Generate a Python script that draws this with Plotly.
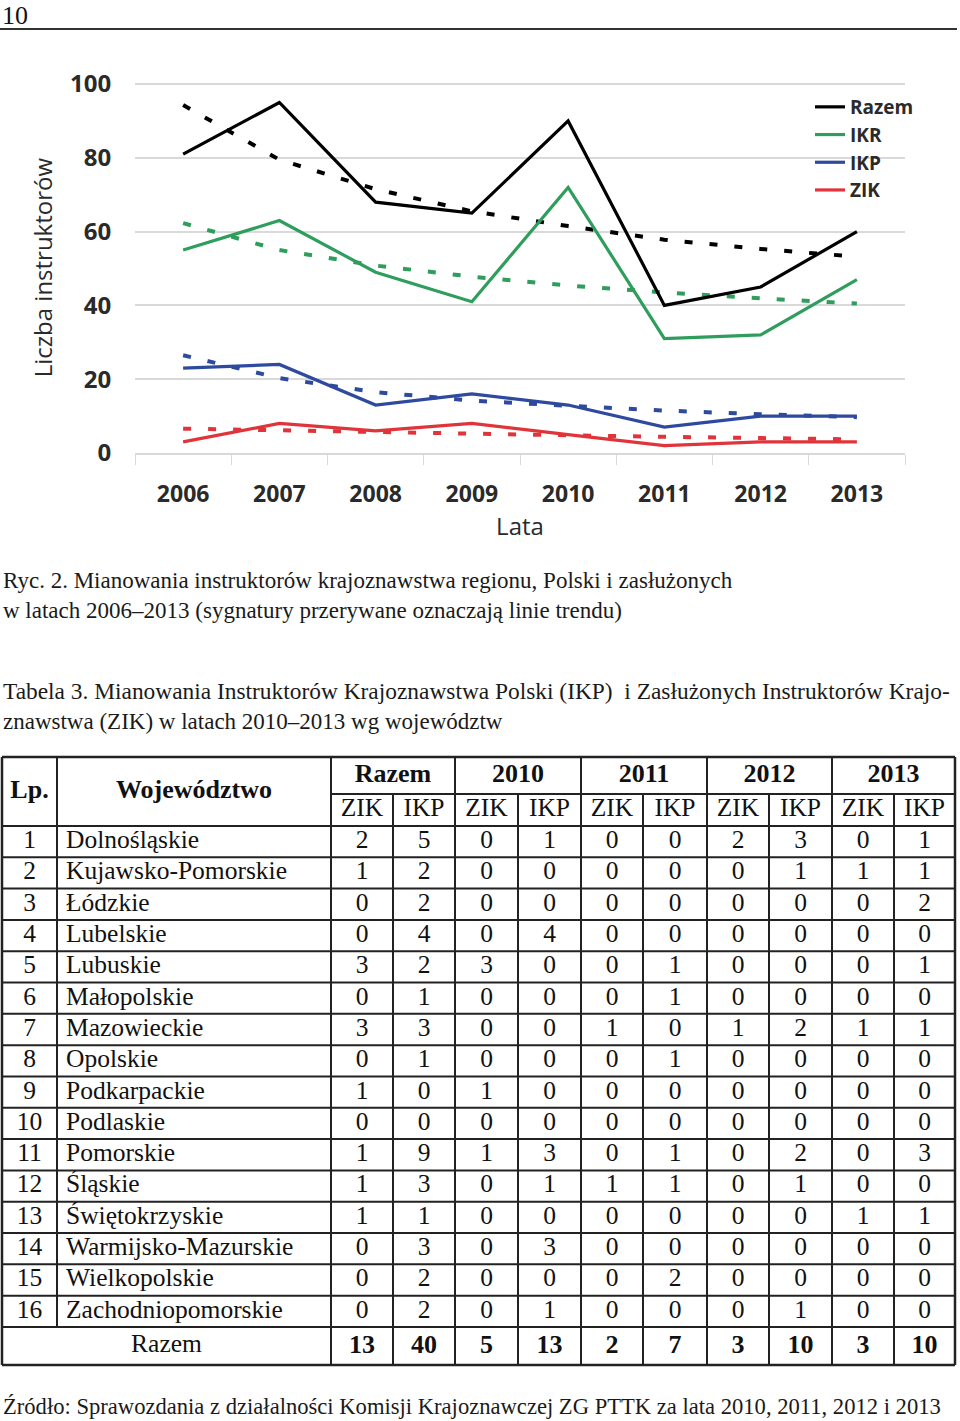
import plotly.graph_objects as go

# ---------------- chart data ----------------
lata = ["2006", "2007", "2008", "2009", "2010", "2011", "2012", "2013"]
razem = [81, 95, 68, 65, 90, 40, 45, 60]
ikr = [55, 63, 49, 41, 72, 31, 32, 47]
ikp = [23, 24, 13, 16, 13, 7, 10, 10]
zik = [3, 8, 6, 8, 5, 2, 3, 3]
# trend lines
razem_trend = [94.3, 79.5, 71.5, 65.5, 61.5, 57.8, 55.3, 53.2]
ikr_trend = [62.3, 55.0, 50.8, 47.8, 45.4, 43.5, 41.9, 40.5]
ikp_trend = [26.5, 20.3, 16.5, 14.2, 12.8, 11.5, 10.5, 9.7]
zik_trend = [6.6, 6.1, 5.6, 5.2, 4.8, 4.4, 4.0, 3.7]

# ---------------- table data ----------------
lp = [str(i) for i in range(1, 17)]
wojewodztwa = ["Dolnośląskie", "Kujawsko-Pomorskie", "Łódzkie", "Lubelskie", "Lubuskie",
               "Małopolskie", "Mazowieckie", "Opolskie", "Podkarpackie", "Podlaskie",
               "Pomorskie", "Śląskie", "Świętokrzyskie", "Warmijsko-Mazurskie",
               "Wielkopolskie", "Zachodniopomorskie"]
razem_zik = [2, 1, 0, 0, 3, 0, 3, 0, 1, 0, 1, 1, 1, 0, 0, 0]
razem_ikp = [5, 2, 2, 4, 2, 1, 3, 1, 0, 0, 9, 3, 1, 3, 2, 2]
zik_2010 = [0, 0, 0, 0, 3, 0, 0, 0, 1, 0, 1, 0, 0, 0, 0, 0]
ikp_2010 = [1, 0, 0, 4, 0, 0, 0, 0, 0, 0, 3, 1, 0, 3, 0, 1]
zik_2011 = [0, 0, 0, 0, 0, 0, 1, 0, 0, 0, 0, 1, 0, 0, 0, 0]
ikp_2011 = [0, 0, 0, 0, 1, 1, 0, 1, 0, 0, 1, 1, 0, 0, 2, 0]
zik_2012 = [2, 0, 0, 0, 0, 0, 1, 0, 0, 0, 0, 0, 0, 0, 0, 0]
ikp_2012 = [3, 1, 0, 0, 0, 0, 2, 0, 0, 0, 2, 1, 0, 0, 0, 1]
zik_2013 = [0, 1, 0, 0, 0, 0, 1, 0, 0, 0, 0, 0, 1, 0, 0, 0]
ikp_2013 = [1, 1, 2, 0, 1, 0, 1, 0, 0, 0, 3, 0, 1, 0, 0, 0]
sumy = [13, 40, 5, 13, 2, 7, 3, 10, 3, 10]
naglowki_grup = ["Razem", "2010", "2011", "2012", "2013"]
naglowki_pod = ["ZIK", "IKP"]

# ---------------- figure ----------------
W, H = 960, 1421
CHART_FONT = "Open Sans"
SERIF = "Liberation Serif"
c_black, c_green, c_blue, c_red = "#000000", "#2f9e5c", "#2e4a9e", "#e0343a"
series = [("Razem", razem, razem_trend, c_black),
          ("IKR", ikr, ikr_trend, c_green),
          ("IKP", ikp, ikp_trend, c_blue),
          ("ZIK", zik, zik_trend, c_red)]

fig = go.Figure()
for name, vals, trend, col in series:
    fig.add_trace(go.Scatter(x=lata, y=trend, mode="lines", showlegend=False,
                             line=dict(color=col, width=4, dash="8px,17px"), hoverinfo="skip"))
for name, vals, trend, col in series:
    fig.add_trace(go.Scatter(x=lata, y=vals, mode="lines", name=name,
                             line=dict(color=col, width=3.2)))


def py(px):
    return 1 - px / H


TABLE_TOP_AREA = 740

fig.update_layout(
    width=W, height=H, margin=dict(l=0, r=0, t=0, b=0, autoexpand=False),
    paper_bgcolor="white", plot_bgcolor="rgba(0,0,0,0)",
    font=dict(family=CHART_FONT, color="#333333"),
    xaxis=dict(domain=[135 / W, 905 / W], type="category", range=[-0.5, 7.5],
               tickson="boundaries", ticks="outside", ticklen=10, tickcolor="#d9d9d9",
               ticklabelstandoff=20,
               showline=True, linecolor="#d9d9d9", linewidth=1.5, showgrid=False,
               tickfont=dict(size=23, weight="bold", color="#2a2a2a"),
               title=dict(text="Lata", font=dict(size=24, color="#2a2a2a"), standoff=2)),
    yaxis=dict(domain=[py(453), py(82.2)], range=[0, 100.5], tickvals=[0, 20, 40, 60, 80, 100],
               showgrid=True, gridcolor="#d9d9d9", gridwidth=1.5, zeroline=False,
               ticks="outside", ticklen=18, tickcolor="rgba(0,0,0,0)",
               tickfont=dict(size=24, weight="bold", color="#2a2a2a"),
               title=dict(text="Liczba instruktorów", font=dict(size=24, color="#2a2a2a"), standoff=10)),
    legend=dict(x=810 / W, y=py(88), xanchor="left", yanchor="top", bgcolor="rgba(0,0,0,0)",
                font=dict(size=19, weight="bold", color="#2a2a2a"), tracegroupgap=0),
    xaxis2=dict(domain=[0, 1], range=[0, W], visible=False, anchor="y2", fixedrange=True),
    yaxis2=dict(domain=[0, py(TABLE_TOP_AREA)], range=[H, TABLE_TOP_AREA], visible=False,
                anchor="x2", fixedrange=True),
    showlegend=True,
)

# ---------------- page texts ----------------
ann = []
ann.append(dict(text="10", x=0, y=py(15), xref="paper", yref="paper", xanchor="left",
                yanchor="middle", showarrow=False, font=dict(family=SERIF, size=26, color="#111")))
caption = [("Ryc. 2. Mianowania instruktorów krajoznawstwa regionu, Polski i zasłużonych", 580, 23),
           ("w latach 2006–2013 (sygnatury przerywane oznaczają linie trendu)", 610, 23),
           ("Tabela 3. Mianowania Instruktorów Krajoznawstwa Polski (IKP)  i Zasłużonych Instruktorów Krajo-", 691, 23.4),
           ("znawstwa (ZIK) w latach 2010–2013 wg województw", 721, 23),
           ("Źródło: Sprawozdania z działalności Komisji Krajoznawczej ZG PTTK za lata 2010, 2011, 2012 i 2013", 1406, 22.6)]
for t, yy, fs in caption:
    ann.append(dict(text=t, x=1 / W, y=py(yy), xref="paper", yref="paper", xanchor="left",
                    yanchor="middle", showarrow=False, font=dict(family=SERIF, size=fs, color="#1a1a1a")))
fig.update_layout(annotations=ann)

shapes = [dict(type="line", xref="paper", yref="paper", x0=0, x1=957 / W, y0=py(29), y1=py(29),
               line=dict(color="#333", width=2))]

# ---------------- table geometry ----------------
col_edges = [2, 57, 331, 393, 455, 518, 581, 643, 707, 769, 832, 894, 955]
t_top, t_mid, t_head = 757, 794, 826
row_h = (1327 - 826) / 16
row_edges = [t_head + i * row_h for i in range(17)]
t_bottom = 1365
lc = "#222222"
lw = 2


def hline(y, x0, x1, w=lw):
    shapes.append(dict(type="line", xref="x2", yref="y2", x0=x0, x1=x1, y0=y, y1=y,
                       line=dict(color=lc, width=w)))


def vline(x, y0, y1, w=lw):
    shapes.append(dict(type="line", xref="x2", yref="y2", x0=x, x1=x, y0=y0, y1=y1,
                       line=dict(color=lc, width=w)))


hline(t_top, col_edges[0], col_edges[-1], 2.5)
hline(t_mid, col_edges[2], col_edges[-1])
for ye in row_edges:
    hline(ye, col_edges[0], col_edges[-1])
hline(t_bottom, col_edges[0], col_edges[-1], 2.5)
vline(col_edges[0], t_top, t_bottom, 2.5)
vline(col_edges[-1], t_top, t_bottom, 2.5)
vline(col_edges[1], t_top, row_edges[-1])
for i in range(2, 12, 2):
    vline(col_edges[i], t_top, t_bottom)
for i in range(3, 12, 2):
    vline(col_edges[i], t_mid, t_bottom)
fig.update_layout(shapes=shapes)

row_c = [(row_edges[i] + row_edges[i + 1]) / 2 for i in range(16)]
col_c = [(col_edges[i] + col_edges[i + 1]) / 2 for i in range(12)]
body_font = dict(family=SERIF, size=25.5, color="#111")
bold_font = dict(family=SERIF, size=26, color="#111", weight="bold")


def txt(xs, ys, texts, font, pos="middle center"):
    fig.add_trace(go.Scatter(x=xs, y=ys, text=texts, mode="text", textposition=pos,
                             textfont=font, xaxis="x2", yaxis="y2", showlegend=False,
                             hoverinfo="skip", cliponaxis=False))


# headers
txt([col_c[0]], [(t_top + t_head) / 2], ["Lp."], bold_font)
txt([col_c[1]], [(t_top + t_head) / 2], ["Województwo"], bold_font)
for g, lab in enumerate(naglowki_grup):
    xc = (col_edges[2 + 2 * g] + col_edges[4 + 2 * g]) / 2
    txt([xc], [(t_top + t_mid) / 2], [lab], bold_font)
    txt([col_c[2 + 2 * g], col_c[3 + 2 * g]], [(t_mid + t_head) / 2] * 2, naglowki_pod, body_font)

# body
txt([col_c[0]] * 16, row_c, lp, body_font)
txt([col_edges[1] + 9] * 16, row_c, wojewodztwa, body_font, pos="middle right")
for k, colvals in enumerate([razem_zik, razem_ikp, zik_2010, ikp_2010, zik_2011, ikp_2011,
                             zik_2012, ikp_2012, zik_2013, ikp_2013]):
    txt([col_c[2 + k]] * 16, row_c, [str(v) for v in colvals], body_font)

# totals
y_tot = (row_edges[-1] + t_bottom) / 2
txt([(col_edges[0] + col_edges[2]) / 2], [y_tot], ["Razem"], body_font)
txt(col_c[2:], [y_tot] * 10, [str(v) for v in sumy], bold_font)

fig.write_html("out.html", config={"displayModeBar": False},
               post_script="document.body.style.margin='0';document.body.style.overflow='hidden';")
